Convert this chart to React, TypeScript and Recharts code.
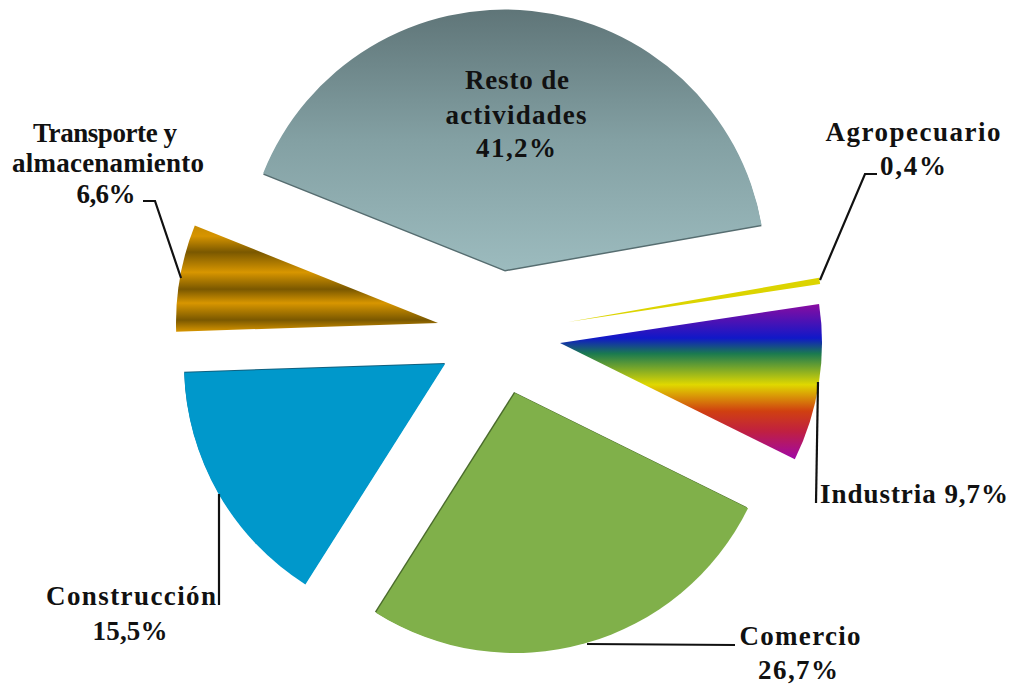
import React from "react";
import { PieChart, Pie, Cell } from "recharts";

const sectors = ["Resto de actividades", "Transporte y almacenamiento", "Construcción", "Comercio", "Industria", "Agropecuario"];
const shares = [41.2, 6.6, 15.5, 26.7, 9.7, 0.4];
const fills = ["url(#gResto)", "url(#gTrans)", "#0098cb", "#80b04a", "url(#gInd)", "#dcd400"];
const centersX = [505, 438, 445, 515, 560, 568];
const centersY = [270, 323, 364, 393, 343, 322];
const radii = [260.5, 262, 261, 260, 262, 255];
const edgeFills = ["#566d70", "none", "#10607f", "#4a6b2c", "none", "none"];
const edgeDx = [0, 0, 0, -1, 0, 0];
const edgeDy = [1.5, 0, -1, -1, 0, 0];

const START = 10;
const angleSpan = (v: number) => (v / shares.reduce((a, b) => a + b, 0)) * 360;
const startAngles = shares.map((_, i) => START + shares.slice(0, i).reduce((a, b) => a + angleSpan(b), 0));

const pct = (i: number) => `${shares[i].toFixed(1).replace(".", ",")}%`;

const FONT: React.CSSProperties = {
  fontFamily: '"Liberation Serif", serif',
  fontWeight: 700,
  fontSize: 27,
  fill: "#111",
};

// sector index, text, centre x, baseline y, drawn width
const labelLines = [
  [0, "Resto de", 517, 89, 104],
  [0, "actividades", 516, 124, 141],
  [0, pct(0), 516, 157, 80],
  [1, "Transporte y", 105, 142, 144],
  [1, "almacenamiento", 108, 172, 192],
  [1, pct(1), 106, 203, 59],
  [5, "Agropecuario", 913, 141, 175],
  [5, pct(5), 913, 175, 66],
  [4, `Industria ${pct(4)}`, 914, 503, 188],
  [2, "Construcción", 131, 605, 170],
  [2, pct(2), 130, 640, 75],
  [3, "Comercio", 800, 645, 121],
  [3, pct(3), 798, 679, 80],
] as const;

const leaders = [
  [1, "143,201 155,201 181,278"],
  [5, "877,174 865,174 820,280"],
  [4, "818,382 816,503"],
  [2, "219,494 219,605"],
  [3, "587,644 735,645"],
] as const;

const renderLabel = (i: number) => () => (
  <g>
    {leaders
      .filter((l) => l[0] === i)
      .map((l) => (
        <polyline key={l[1]} points={l[1]} fill="none" stroke="#111" strokeWidth={2.2} />
      ))}
    {labelLines
      .filter((l) => l[0] === i)
      .map((l) => (
        <text key={l[1]} x={l[2]} y={l[3]} textAnchor="middle" textLength={l[4]} lengthAdjust="spacing" style={FONT}>
          {l[1]}
        </text>
      ))}
  </g>
);

export default function App() {
  return (
    <div style={{ position: "absolute", left: 0, top: 0, background: "#fff" }}>
      <PieChart width={1013} height={684} margin={{ top: 0, right: 0, bottom: 0, left: 0 }}>
        <defs>
          <linearGradient id="gResto" x1="0" y1="0" x2="0" y2="1">
            <stop offset="0" stopColor="#5f7578" />
            <stop offset="0.5" stopColor="#83a0a3" />
            <stop offset="1" stopColor="#9cbbbe" />
          </linearGradient>
          <linearGradient id="gTrans" x1="0" y1="0" x2="0" y2="1">
            <stop offset="0" stopColor="#c98c00" />
            <stop offset="0.1" stopColor="#d69400" />
            <stop offset="0.25" stopColor="#7a5800" />
            <stop offset="0.44" stopColor="#d89600" />
            <stop offset="0.6" stopColor="#7a5800" />
            <stop offset="0.73" stopColor="#d89600" />
            <stop offset="0.89" stopColor="#7a5800" />
            <stop offset="1" stopColor="#d89600" />
          </linearGradient>
          <linearGradient id="gInd" x1="0" y1="0" x2="0" y2="1">
            <stop offset="0" stopColor="#8a0ca0" />
            <stop offset="0.22" stopColor="#1018c8" />
            <stop offset="0.32" stopColor="#1a7a50" />
            <stop offset="0.52" stopColor="#e0d800" />
            <stop offset="0.69" stopColor="#d04010" />
            <stop offset="0.82" stopColor="#c02040" />
            <stop offset="1" stopColor="#a008a8" />
          </linearGradient>
        </defs>
        {sectors.map((s, i) =>
          edgeFills[i] === "none" ? null : (
            <Pie
              key={`edge-${s}`}
              data={[{ name: s, value: shares[i] }]}
              dataKey="value"
              cx={centersX[i] + edgeDx[i]}
              cy={centersY[i] + edgeDy[i]}
              outerRadius={radii[i]}
              startAngle={startAngles[i]}
              endAngle={startAngles[i] + angleSpan(shares[i])}
              stroke="none"
              isAnimationActive={false}
            >
              <Cell fill={edgeFills[i]} />
            </Pie>
          )
        )}
        {sectors.map((s, i) => (
          <Pie
            key={s}
            data={[{ name: s, value: shares[i] }]}
            dataKey="value"
            cx={centersX[i]}
            cy={centersY[i]}
            outerRadius={radii[i]}
            startAngle={startAngles[i]}
            endAngle={startAngles[i] + angleSpan(shares[i])}
            stroke="none"
            label={renderLabel(i)}
            labelLine={false}
            isAnimationActive={false}
          >
            <Cell fill={fills[i]} />
          </Pie>
        ))}
      </PieChart>
    </div>
  );
}
